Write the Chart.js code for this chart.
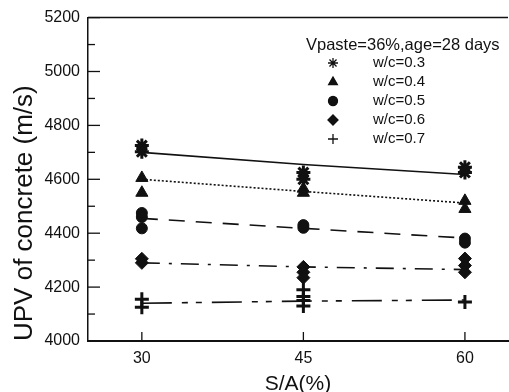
<!DOCTYPE html>
<html>
<head>
<meta charset="utf-8">
<script src="https://cdn.jsdelivr.net/npm/chart.js@4/dist/chart.umd.min.js"></script>
<style>
  html, body { margin: 0; padding: 0; background: #fff; overflow: hidden; width: 509px; height: 392px; }
  #wrap { width: 518px; height: 392px; position: relative; overflow: hidden; }
  canvas { display: block; }
</style>
</head>
<body>
<div id="wrap"><canvas id="upv_plot"></canvas></div>
<script>
'use strict';

// S/A levels (x) and measured UPV for each w/c (replicates per S/A level)
const saLevels = [30, 45, 60];
const wcLabels = ['w/c=0.3', 'w/c=0.4', 'w/c=0.5', 'w/c=0.6', 'w/c=0.7'];
const wcMarkers = ['star', 'triangle', 'circle', 'rectRot', 'cross'];

const wc03Pts = [[4725, 4702], [4625, 4600], [4645, 4625]];
const wc04Pts = [[4605, 4550], [4565, 4550], [4520, 4490]];
const wc05Pts = [[4475, 4460, 4418], [4430, 4420], [4380, 4365]];
const wc06Pts = [[4305, 4290], [4275, 4255, 4235], [4306, 4280, 4255]];
const wc07Pts = [[4155, 4125], [4190, 4165, 4150, 4130], [4145]];

// fitted trend lines at 30 / 45 / 60
const wc03Fit = [4700, 4655, 4618];
const wc04Fit = [4600, 4555, 4512];
const wc05Fit = [4455, 4418, 4382];
const wc06Fit = [4290, 4275, 4265];
const wc07Fit = [4140, 4148, 4152];

const yTicks = [4000, 4200, 4400, 4600, 4800, 5000, 5200];

const allPts = [wc03Pts, wc04Pts, wc05Pts, wc06Pts, wc07Pts];
const allFits = [wc03Fit, wc04Fit, wc05Fit, wc06Fit, wc07Fit];
const dashes = [[], [2, 2], [16, 11], [18, 9, 3, 9], [30, 10, 6, 8, 6, 10]];
const ink = '#111';
const fontFam = '"Liberation Sans", Arial, sans-serif';

function toXY(groups) {
    const out = [];
    groups.forEach((vals, i) => vals.forEach(v => out.push({x: saLevels[i], y: v})));
    return out;
}

const datasets = [];
allFits.forEach((fit, i) => {
    datasets.push({
        label: wcLabels[i] + ' fit',
        data: fit.map((v, k) => ({x: saLevels[k], y: v})),
        showLine: true,
        borderColor: ink,
        borderWidth: 1.6,
        borderDash: dashes[i],
        pointRadius: 0,
        fill: false
    });
});
allPts.forEach((pts, i) => {
    const m = wcMarkers[i];
    datasets.push({
        label: wcLabels[i],
        data: toXY(pts),
        showLine: false,
        pointStyle: m,
        pointRadius: m == 'circle' ? 5.5 : (m == 'rectRot' ? 6.5 : 7),
        pointBackgroundColor: ink,
        pointBorderColor: ink,
        pointBorderWidth: (m == 'star' || m == 'cross') ? 3 : 1
    });
});

// frame, inward ticks and legend text
const framePlugin = {
    id: 'frame',
    afterDraw(chart) {
        const ctx = chart.ctx;
        const a = chart.chartArea;
        const xs = chart.scales.x, ys = chart.scales.y;
        ctx.save();
        ctx.strokeStyle = ink;
        ctx.lineWidth = 1.5;
        ctx.beginPath();
        ctx.moveTo(a.left, a.top);
        ctx.lineTo(a.right, a.top);
        ctx.stroke();
        ctx.lineWidth = 1.3;
        for (let v = 4000; v <= 5200; v += 100) {
            const py = ys.getPixelForValue(v);
            const len = v % 200 == 0 ? 12 : 7;
            ctx.beginPath();
            ctx.moveTo(a.left, py);
            ctx.lineTo(a.left + len, py);
            ctx.stroke();
        }
        saLevels.forEach(v => {
            const px = xs.getPixelForValue(v);
            ctx.beginPath();
            ctx.moveTo(px, a.bottom);
            ctx.lineTo(px, a.bottom - 9);
            ctx.stroke();
        });

        // legend
        ctx.fillStyle = ink;
        ctx.textBaseline = 'middle';
        ctx.font = '16.5px ' + fontFam;
        ctx.fillText('Vpaste=36%,age=28 days', 306, 45);
        ctx.font = '15px ' + fontFam;
        wcLabels.forEach((lab, i) => {
            const y = 63 + i * 19;
            const m = wcMarkers[i];
            Chart.helpers.drawPoint(ctx, {
                pointStyle: m,
                radius: m == 'circle' ? 4.5 : 5,
                borderWidth: (m == 'star' || m == 'cross') ? 2.2 : 1
            }, 333, y);
            ctx.fill();
            ctx.fillText(lab, 373, y);
        });
        ctx.restore();
    }
};

const upvPlot = new Chart('upv_plot', {
    type: 'scatter',
    data: {datasets: datasets},
    plugins: [framePlugin],
    options: {
        responsive: true,
        maintainAspectRatio: false,
        animation: false,
        layout: {padding: {top: 16, right: 0, left: 0, bottom: 0}},
        plugins: {
            legend: {display: false},
            tooltip: {enabled: false}
        },
        scales: {
            x: {
                type: 'linear',
                min: 25,
                max: 64,
                afterFit: s => { s.height = 51; },
                afterBuildTicks: s => { s.ticks = saLevels.map(v => ({value: v})); },
                grid: {display: false, drawTicks: false},
                border: {display: true, color: ink, width: 2},
                ticks: {color: ink, padding: 8, font: {family: fontFam, size: 16}},
                title: {
                    display: true,
                    text: 'S/A(%)',
                    color: ink,
                    padding: {top: 0, bottom: 0},
                    font: {family: fontFam, size: 21, lineHeight: 0.7}
                }
            },
            y: {
                type: 'linear',
                min: 4000,
                max: 5200,
                afterFit: s => { s.width = 88; },
                afterBuildTicks: s => { s.ticks = yTicks.map(v => ({value: v})); },
                grid: {display: false, drawTicks: false},
                border: {display: true, color: ink, width: 1.5},
                ticks: {
                    color: ink,
                    padding: 8,
                    font: {family: fontFam, size: 16},
                    callback: v => String(v)
                },
                title: {
                    display: true,
                    text: 'UPV of concrete (m/s)',
                    color: ink,
                    align: 'start',
                    padding: {top: 9, bottom: 0},
                    font: {family: fontFam, size: 26}
                }
            }
        }
    }
});
</script>
</body>
</html>
